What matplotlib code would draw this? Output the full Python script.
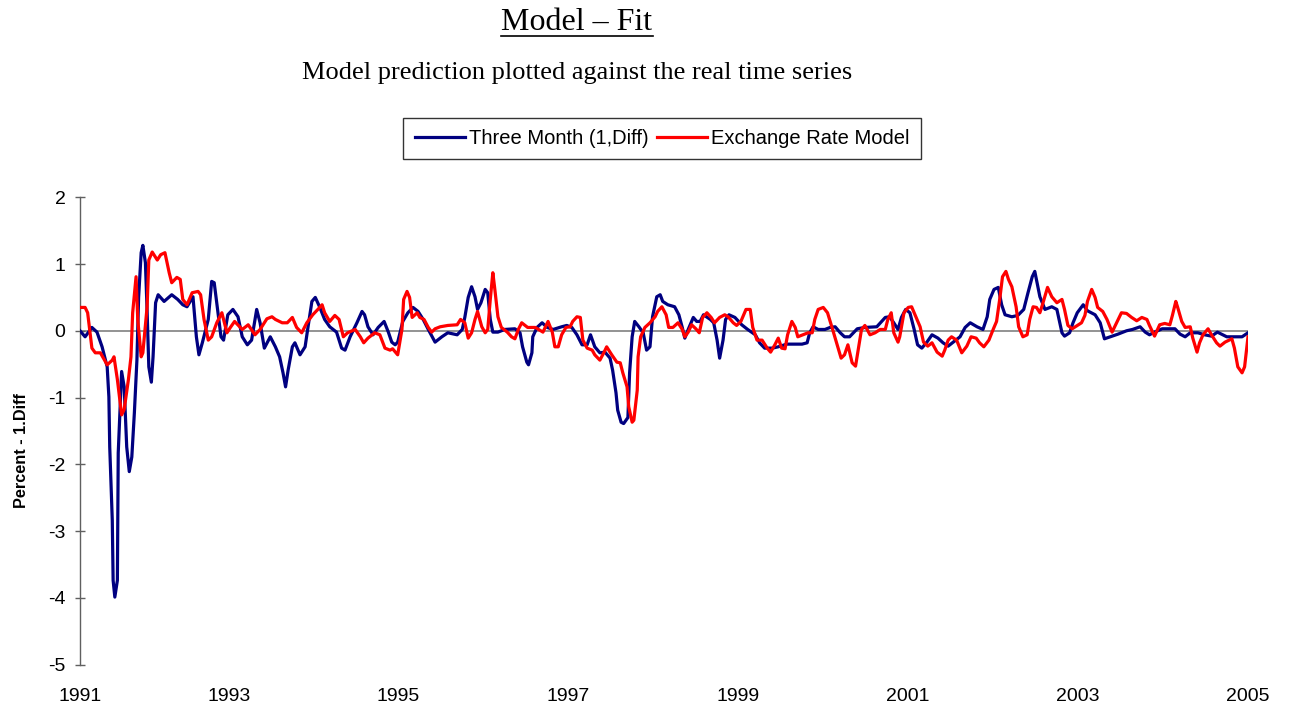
import matplotlib
matplotlib.use("Agg")
import matplotlib.pyplot as plt
from matplotlib.lines import Line2D

plt.rcParams['font.family'] = ['Liberation Sans', 'DejaVu Sans']

# ---------------- data (decimal years, percent 1.Diff) ----------------
three_month_t = [
    1991.25, 1991.31, 1991.39, 1991.45, 1991.51, 1991.57, 1991.59, 1991.60, 1991.63, 1991.64,
    1991.66, 1991.69, 1991.70, 1991.72, 1991.74, 1991.77, 1991.80, 1991.83, 1991.86, 1991.89,
    1991.92, 1991.94, 1991.97, 1991.99, 1992.02, 1992.04, 1992.06, 1992.09, 1992.11, 1992.14,
    1992.17, 1992.24, 1992.33, 1992.40, 1992.46, 1992.51, 1992.58, 1992.62, 1992.65, 1992.69,
    1992.76, 1992.80, 1992.83, 1992.87, 1992.91, 1992.94, 1992.99, 1993.05, 1993.11, 1993.16,
    1993.22, 1993.27, 1993.33, 1993.37, 1993.42, 1993.49, 1993.55, 1993.60, 1993.64, 1993.67,
    1993.70, 1993.75, 1993.78, 1993.84, 1993.90, 1993.93, 1993.98, 1994.02, 1994.07, 1994.13,
    1994.19, 1994.27, 1994.33, 1994.37, 1994.43, 1994.51, 1994.57, 1994.60, 1994.64, 1994.70,
    1994.76, 1994.83, 1994.88, 1994.92, 1994.96, 1994.99, 1995.05, 1995.11, 1995.17, 1995.23,
    1995.29, 1995.35, 1995.43, 1995.51, 1995.58, 1995.69, 1995.75, 1995.78, 1995.82, 1995.86,
    1995.90, 1995.93, 1995.97, 1996.02, 1996.05, 1996.08, 1996.11, 1996.17, 1996.25, 1996.37,
    1996.43, 1996.46, 1996.51, 1996.53, 1996.57, 1996.58, 1996.63, 1996.69, 1996.75, 1996.82,
    1996.92, 1996.98, 1997.04, 1997.10, 1997.16, 1997.22, 1997.26, 1997.31, 1997.37, 1997.43,
    1997.49, 1997.52, 1997.56, 1997.58, 1997.62, 1997.65, 1997.70, 1997.72, 1997.75, 1997.78,
    1997.83, 1997.88, 1997.92, 1997.96, 1997.99, 1998.04, 1998.08, 1998.11, 1998.17, 1998.25,
    1998.30, 1998.34, 1998.37, 1998.41, 1998.47, 1998.51, 1998.55, 1998.59, 1998.67, 1998.71,
    1998.75, 1998.78, 1998.82, 1998.85, 1998.89, 1998.96, 1999.04, 1999.11, 1999.20, 1999.25,
    1999.31, 1999.40, 1999.47, 1999.57, 1999.67, 1999.75, 1999.81, 1999.84, 1999.88, 1999.94,
    2000.02, 2000.08, 2000.14, 2000.20, 2000.25, 2000.31, 2000.40, 2000.49, 2000.63, 2000.73,
    2000.78, 2000.83, 2000.88, 2000.92, 2000.97, 2001.02, 2001.07, 2001.11, 2001.16, 2001.22,
    2001.28, 2001.35, 2001.41, 2001.47, 2001.53, 2001.61, 2001.67, 2001.73, 2001.81, 2001.88,
    2001.93, 2001.96, 2002.01, 2002.06, 2002.10, 2002.14, 2002.22, 2002.29, 2002.36, 2002.41,
    2002.46, 2002.49, 2002.55, 2002.61, 2002.69, 2002.75, 2002.81, 2002.84, 2002.90, 2002.94,
    2002.99, 2003.06, 2003.11, 2003.20, 2003.26, 2003.31, 2003.40, 2003.47, 2003.57, 2003.64,
    2003.73, 2003.79, 2003.84, 2003.90, 2003.99, 2004.14, 2004.20, 2004.26, 2004.32, 2004.41,
    2004.49, 2004.57, 2004.64, 2004.75, 2004.84, 2004.93, 2005.00,
]
three_month_v = [
    0.00, -0.09, 0.05, -0.02, -0.24, -0.54, -0.99, -1.74, -2.84, -3.74,
    -3.99, -3.74, -1.83, -1.23, -0.61, -0.84, -1.74, -2.11, -1.89, -1.23,
    -0.44, 0.50, 1.17, 1.28, 1.02, 0.30, -0.54, -0.77, -0.39, 0.42,
    0.54, 0.44, 0.54, 0.47, 0.39, 0.36, 0.51, -0.09, -0.36, -0.18,
    0.17, 0.74, 0.72, 0.32, -0.09, -0.14, 0.24, 0.32, 0.21, -0.09,
    -0.21, -0.14, 0.32, 0.12, -0.26, -0.09, -0.24, -0.39, -0.63, -0.84,
    -0.59, -0.24, -0.18, -0.36, -0.24, 0.02, 0.44, 0.50, 0.36, 0.17,
    0.06, -0.02, -0.26, -0.29, -0.09, 0.12, 0.29, 0.24, 0.06, -0.06,
    0.05, 0.14, -0.02, -0.17, -0.21, -0.17, 0.14, 0.27, 0.35, 0.29,
    0.17, 0.02, -0.17, -0.09, -0.03, -0.06, 0.02, 0.20, 0.50, 0.66,
    0.51, 0.32, 0.42, 0.62, 0.57, 0.17, -0.02, -0.02, 0.02, 0.03,
    -0.03, -0.24, -0.47, -0.51, -0.33, -0.09, 0.05, 0.12, 0.05, 0.02,
    0.06, 0.08, 0.05, -0.06, -0.21, -0.21, -0.06, -0.24, -0.33, -0.32,
    -0.41, -0.59, -0.93, -1.19, -1.37, -1.39, -1.30, -0.63, -0.09, 0.14,
    0.06, -0.03, -0.29, -0.24, 0.21, 0.51, 0.54, 0.44, 0.39, 0.36,
    0.24, 0.05, -0.11, 0.02, 0.20, 0.14, 0.14, 0.24, 0.17, 0.12,
    -0.14, -0.41, -0.14, 0.17, 0.24, 0.20, 0.09, 0.02, -0.06, -0.18,
    -0.26, -0.26, -0.24, -0.20, -0.20, -0.20, -0.18, -0.03, 0.06, 0.02,
    0.02, 0.05, 0.06, -0.03, -0.09, -0.09, 0.03, 0.05, 0.06, 0.20,
    0.21, 0.12, 0.02, 0.20, 0.32, 0.27, 0.02, -0.21, -0.26, -0.17,
    -0.06, -0.11, -0.18, -0.23, -0.17, -0.09, 0.05, 0.12, 0.06, 0.02,
    0.21, 0.47, 0.62, 0.65, 0.39, 0.24, 0.21, 0.23, 0.32, 0.57,
    0.81, 0.89, 0.51, 0.32, 0.36, 0.32, -0.03, -0.08, -0.03, 0.12,
    0.27, 0.39, 0.30, 0.24, 0.12, -0.12, -0.08, -0.05, 0.00, 0.02,
    0.06, -0.02, -0.06, -0.02, 0.03, 0.03, -0.05, -0.09, -0.03, -0.03,
    -0.06, -0.08, -0.02, -0.09, -0.09, -0.09, -0.03,
]

exchange_t = [
    1991.25, 1991.31, 1991.34, 1991.39, 1991.43, 1991.49, 1991.57, 1991.63, 1991.65, 1991.69,
    1991.74, 1991.77, 1991.82, 1991.85, 1991.87, 1991.91, 1991.93, 1991.97, 1991.99, 1992.04,
    1992.06, 1992.10, 1992.16, 1992.20, 1992.25, 1992.30, 1992.33, 1992.39, 1992.43, 1992.46,
    1992.51, 1992.57, 1992.64, 1992.67, 1992.71, 1992.76, 1992.80, 1992.86, 1992.92, 1992.98,
    1993.02, 1993.07, 1993.16, 1993.23, 1993.31, 1993.37, 1993.45, 1993.51, 1993.55, 1993.63,
    1993.69, 1993.75, 1993.80, 1993.86, 1993.92, 1993.99, 1994.05, 1994.10, 1994.13, 1994.19,
    1994.25, 1994.30, 1994.35, 1994.40, 1994.49, 1994.55, 1994.59, 1994.64, 1994.72, 1994.78,
    1994.84, 1994.90, 1994.93, 1994.99, 1995.04, 1995.06, 1995.10, 1995.13, 1995.16, 1995.22,
    1995.25, 1995.30, 1995.35, 1995.39, 1995.43, 1995.49, 1995.58, 1995.69, 1995.73, 1995.78,
    1995.82, 1995.86, 1995.90, 1995.93, 1995.98, 1996.02, 1996.05, 1996.08, 1996.11, 1996.13,
    1996.17, 1996.21, 1996.28, 1996.33, 1996.37, 1996.41, 1996.45, 1996.52, 1996.61, 1996.70,
    1996.76, 1996.81, 1996.84, 1996.88, 1996.92, 1996.97, 1997.02, 1997.05, 1997.10, 1997.14,
    1997.17, 1997.22, 1997.28, 1997.31, 1997.37, 1997.42, 1997.45, 1997.51, 1997.57, 1997.61,
    1997.64, 1997.69, 1997.71, 1997.75, 1997.77, 1997.81, 1997.82, 1997.85, 1997.90, 1997.96,
    1998.02, 1998.05, 1998.10, 1998.15, 1998.18, 1998.23, 1998.29, 1998.34, 1998.37, 1998.41,
    1998.45, 1998.50, 1998.54, 1998.58, 1998.63, 1998.68, 1998.72, 1998.78, 1998.84, 1998.88,
    1998.94, 1998.98, 1999.03, 1999.09, 1999.14, 1999.17, 1999.22, 1999.28, 1999.34, 1999.38,
    1999.43, 1999.47, 1999.51, 1999.55, 1999.58, 1999.63, 1999.67, 1999.70, 1999.76, 1999.82,
    1999.87, 1999.90, 1999.94, 2000.00, 2000.05, 2000.11, 2000.17, 2000.21, 2000.25, 2000.29,
    2000.34, 2000.38, 2000.41, 2000.45, 2000.49, 2000.55, 2000.61, 2000.67, 2000.73, 2000.76,
    2000.80, 2000.83, 2000.88, 2000.90, 2000.95, 2001.00, 2001.04, 2001.09, 2001.14, 2001.18,
    2001.23, 2001.28, 2001.34, 2001.40, 2001.43, 2001.47, 2001.51, 2001.57, 2001.63, 2001.69,
    2001.74, 2001.80, 2001.84, 2001.89, 2001.95, 2002.00, 2002.04, 2002.08, 2002.11, 2002.15,
    2002.18, 2002.22, 2002.27, 2002.30, 2002.35, 2002.40, 2002.43, 2002.47, 2002.51, 2002.55,
    2002.58, 2002.64, 2002.69, 2002.75, 2002.81, 2002.84, 2002.88, 2002.93, 2002.99, 2003.04,
    2003.08, 2003.11, 2003.16, 2003.20, 2003.23, 2003.29, 2003.34, 2003.40, 2003.46, 2003.51,
    2003.57, 2003.63, 2003.69, 2003.75, 2003.81, 2003.84, 2003.90, 2003.96, 2004.02, 2004.08,
    2004.11, 2004.15, 2004.17, 2004.22, 2004.26, 2004.32, 2004.35, 2004.40, 2004.43, 2004.47,
    2004.53, 2004.57, 2004.63, 2004.67, 2004.73, 2004.81, 2004.84, 2004.88, 2004.93, 2004.96,
    2005.00,
]
exchange_v = [
    0.35, 0.35, 0.27, -0.26, -0.33, -0.33, -0.51, -0.44, -0.39, -0.73,
    -1.26, -1.18, -0.73, -0.39, 0.27, 0.81, 0.17, -0.39, -0.33, 0.36,
    1.06, 1.18, 1.06, 1.14, 1.17, 0.87, 0.72, 0.80, 0.77, 0.47,
    0.39, 0.57, 0.59, 0.54, 0.17, -0.14, -0.09, 0.12, 0.27, -0.03,
    0.05, 0.14, 0.02, 0.09, -0.06, 0.02, 0.18, 0.21, 0.17, 0.12,
    0.12, 0.20, 0.05, -0.03, 0.12, 0.24, 0.32, 0.39, 0.27, 0.14,
    0.23, 0.17, -0.09, -0.03, 0.02, -0.09, -0.18, -0.11, -0.03, -0.06,
    -0.26, -0.29, -0.27, -0.36, 0.02, 0.47, 0.59, 0.50, 0.20, 0.27,
    0.20, 0.17, 0.05, -0.02, 0.03, 0.06, 0.08, 0.09, 0.17, 0.12,
    -0.11, -0.03, 0.17, 0.29, 0.06, -0.03, 0.02, 0.47, 0.87, 0.66,
    0.21, 0.05, -0.02, -0.09, -0.12, 0.02, 0.12, 0.05, 0.05, -0.02,
    0.14, -0.02, -0.24, -0.24, -0.06, 0.05, 0.06, 0.14, 0.21, 0.20,
    -0.14, -0.26, -0.29, -0.36, -0.44, -0.32, -0.24, -0.36, -0.47, -0.48,
    -0.63, -0.84, -1.14, -1.37, -1.34, -0.89, -0.39, -0.09, 0.05, 0.12,
    0.21, 0.29, 0.36, 0.24, 0.05, 0.05, 0.12, 0.02, -0.09, -0.02,
    0.09, 0.03, -0.03, 0.20, 0.27, 0.20, 0.12, 0.20, 0.24, 0.21,
    0.12, 0.08, 0.14, 0.32, 0.32, 0.05, -0.14, -0.14, -0.26, -0.32,
    -0.21, -0.11, -0.26, -0.27, -0.06, 0.14, 0.05, -0.09, -0.06, -0.03,
    -0.03, 0.17, 0.32, 0.35, 0.27, 0.02, -0.24, -0.41, -0.36, -0.21,
    -0.48, -0.53, -0.29, 0.02, 0.08, -0.06, -0.03, 0.02, 0.02, 0.17,
    0.27, -0.03, -0.17, -0.09, 0.27, 0.35, 0.36, 0.21, 0.06, -0.17,
    -0.23, -0.18, -0.32, -0.38, -0.29, -0.14, -0.09, -0.14, -0.33, -0.23,
    -0.09, -0.11, -0.18, -0.24, -0.14, 0.02, 0.14, 0.50, 0.81, 0.89,
    0.77, 0.66, 0.36, 0.06, -0.09, -0.06, 0.17, 0.36, 0.35, 0.27,
    0.39, 0.65, 0.51, 0.42, 0.47, 0.32, 0.08, 0.03, 0.08, 0.12,
    0.23, 0.44, 0.62, 0.50, 0.35, 0.29, 0.17, -0.02, 0.14, 0.27,
    0.26, 0.20, 0.15, 0.20, 0.17, 0.08, -0.08, 0.09, 0.11, 0.09,
    0.23, 0.44, 0.36, 0.14, 0.05, 0.06, -0.11, -0.32, -0.18, -0.06,
    0.03, -0.06, -0.18, -0.23, -0.17, -0.12, -0.26, -0.54, -0.63, -0.54,
    -0.09,
]

x_tick_pos = [1991.25, 1993, 1995, 1997, 1999, 2001, 2003, 2005]
x_tick_labels = ['1991', '1993', '1995', '1997', '1999', '2001', '2003', '2005']
y_ticks = [-5, -4, -3, -2, -1, 0, 1, 2]

series_names = ['Three Month (1,Diff)', 'Exchange Rate Model']
series_colors = ['#000080', '#FF0000']

# ---------------- figure ----------------
W, H = 1289, 709
fig = plt.figure(figsize=(W / 100, H / 100), dpi=100)
ax = fig.add_axes([80 / W, 1 - 664.5 / H, 1168 / W, 467.2 / H])

ax.axhline(0, color='#808080', lw=1.2, zorder=1)
ax.plot(three_month_t, three_month_v, color=series_colors[0], lw=2.3,
        solid_joinstyle='round', zorder=3, label=series_names[0])
ax.plot(exchange_t, exchange_v, color=series_colors[1], lw=2.3,
        solid_joinstyle='round', zorder=4, label=series_names[1])

ax.set_xlim(1991.25, 2005.0)
ax.set_ylim(-5, 2)
for s in ['top', 'right', 'bottom']:
    ax.spines[s].set_visible(False)
ax.spines['left'].set_color('#606060')
ax.spines['left'].set_linewidth(1.0)

ax.set_yticks(y_ticks)
ax.set_yticklabels([str(v) for v in y_ticks])
ax.tick_params(axis='y', direction='inout', length=7, width=1, color='#606060',
               labelsize=14, pad=7)
ax.set_xticks(x_tick_pos)
ax.set_xticklabels(x_tick_labels)
ax.tick_params(axis='x', length=0, pad=17, labelsize=14)

ax.set_ylabel('Percent - 1.Diff', fontsize=11.7, fontweight='bold')
ax.yaxis.set_label_coords(-0.044, 0.457)

# titles
title = fig.text(577 / W, 1 - 22 / H, 'Model \u2013 Fit', family='Liberation Serif',
                 fontsize=23, ha='center', va='center')
fig.text(577 / W, 1 - 73 / H, 'Model prediction plotted against the real time series',
         family='Liberation Serif', fontsize=19, ha='center', va='center')

fig.canvas.draw()
bb = title.get_window_extent(renderer=fig.canvas.get_renderer())
uy = bb.y0 + 1
fig.add_artist(Line2D([bb.x0 / W, bb.x1 / W], [uy / H, uy / H], color='black', lw=1.2,
                      transform=fig.transFigure))

leg = fig.legend(loc='center', bbox_to_anchor=(662 / W, 1 - 138.5 / H), ncol=2,
                 fontsize=14.5, frameon=True, fancybox=False, edgecolor='black',
                 handlelength=2.5, handletextpad=0.2, columnspacing=0.4,
                 borderpad=0.55, borderaxespad=0)
leg.get_frame().set_linewidth(1.0)

fig.savefig('out.png', dpi=100)
